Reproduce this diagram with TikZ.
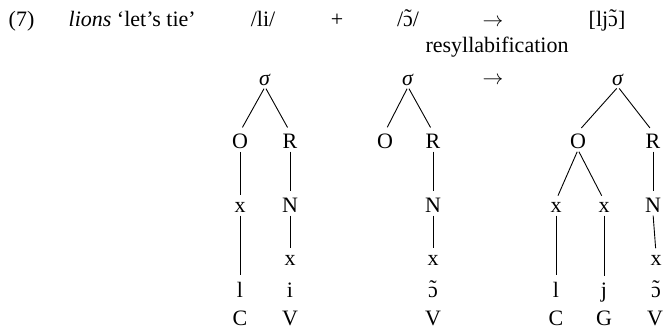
\documentclass[tikz,border=0pt]{standalone}
\usepackage{fontspec}
\setmainfont{Liberation Serif}
\newcommand\nasO{\ooalign{ɔ\cr\hidewidth\raisebox{0.08em}{\char"02DC}\hidewidth\cr}}
\begin{document}
\begin{tikzpicture}[x=1pt,y=-1pt,
  every node/.style={font=\fontsize{22}{26}\selectfont, inner sep=1.5pt},
  t/.style={anchor=base},
  e/.style={line width=0.9pt, shorten >=5pt, shorten <=2pt}]
\useasboundingbox (0,0) rectangle (663,335);
% header
\node[anchor=base west] (num) at (7,26) {(7)};
\node[anchor=base west] (gloss) at (67,26) {\textit{lions} ‘let’s tie’};
\node[t] (li) at (263,26) {/li/};
\node[t] (plus) at (337,26) {+};
\node[t] (on) at (408,26) {/\nasO/};
\node[t] (arr1) at (493,26) {$\rightarrow$};
\node[t] (ljon) at (607,26) {[lj\nasO]};
\node[t] (resyl) at (497,52) {resyllabification};
\node[t] (arr2) at (493,84) {$\rightarrow$};
% tree 1
\node[t] (s1) at (265,85) {\textit{σ}};
\node[t] (o1) at (240,148) {O};
\node[t] (r1) at (290,148) {R};
\node[t] (x1) at (240,212) {x};
\node[t] (n1) at (290,212) {N};
\node[t] (xb1) at (290,265) {x};
\node[t] (l1) at (240,297) {l};
\node[t] (i1) at (290,297) {i};
\node[t] (c1) at (240,325) {C};
\node[t] (v1) at (290,325) {V};
\draw[e] (s1.south) -- (o1.north);
\draw[e] (s1.south) -- (r1.north);
\draw[e] (o1.south) -- (x1.north);
\draw[e] (x1.south) -- (l1.north);
\draw[e] (r1.south) -- (n1.north);
\draw[e] (n1.south) -- (xb1.north);
% tree 2
\node[t] (s2) at (408,85) {\textit{σ}};
\node[t] (o2) at (385,148) {O};
\node[t] (r2) at (433,148) {R};
\node[t] (n2) at (433,212) {N};
\node[t] (xb2) at (433,265) {x};
\node[t] (on2) at (433,297) {\nasO};
\node[t] (v2) at (433,325) {V};
\draw[e] (s2.south) -- (o2.north);
\draw[e] (s2.south) -- (r2.north);
\draw[e] (r2.south) -- (n2.north);
\draw[e] (n2.south) -- (xb2.north);
% tree 3
\node[t] (s3) at (618,85) {\textit{σ}};
\node[t] (o3) at (578,148) {O};
\node[t] (r3) at (653,148) {R};
\node[t] (xa3) at (556,212) {x};
\node[t] (xb3) at (604,212) {x};
\node[t] (n3) at (653,212) {N};
\node[t] (xc3) at (656,265) {x};
\node[t] (l3) at (556,297) {l};
\node[t] (j3) at (604,297) {j};
\node[t] (on3) at (656,297) {\nasO};
\node[t] (c3) at (556,325) {C};
\node[t] (g3) at (604,325) {G};
\node[t] (v3) at (655,325) {V};
\draw[e] (s3.south) -- (o3.north);
\draw[e] (s3.south) -- (r3.north);
\draw[e] (o3.south) -- (xa3.north);
\draw[e] (o3.south) -- (xb3.north);
\draw[e] (r3.south) -- (n3.north);
\draw[e] (xa3.south) -- (l3.north);
\draw[e] (xb3.south) -- (j3.north);
\draw[e] (n3.south) -- (xc3.north);
\end{tikzpicture}
\end{document}
